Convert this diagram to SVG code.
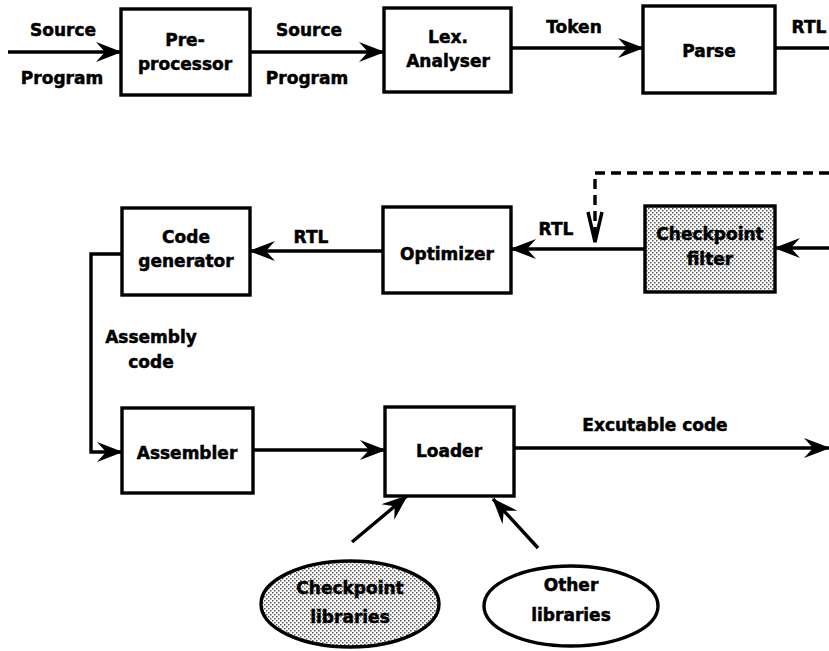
<svg xmlns="http://www.w3.org/2000/svg" width="829" height="651" viewBox="0 0 829 651">
  <defs>
    <pattern id="stipple" width="4" height="4" patternUnits="userSpaceOnUse">
      <rect width="4" height="4" fill="#ffffff"/>
      <rect x="0" y="0" width="1.5" height="1.5" fill="#555"/>
      <rect x="2" y="2" width="1.5" height="1.5" fill="#555"/>
    </pattern>
    <marker id="arrow" viewBox="-27 -11 29 22" refX="0" refY="0" markerWidth="29" markerHeight="22" markerUnits="userSpaceOnUse" orient="auto">
      <path d="M1,0 L-25,-10 L-16,0 L-25,10 Z" fill="#000"/>
    </marker>
  </defs>
  <style>
    .box { fill: #ffffff; stroke: #000; stroke-width: 3.4; }
    .shaded { fill: url(#stipple); }
    .edge { fill: none; stroke: #000; stroke-width: 3.4; }
    .dash { fill: none; stroke: #000; stroke-width: 3.4; stroke-dasharray: 10 6; }
    text { font-family: "DejaVu Sans", "Liberation Sans", sans-serif; font-weight: bold; font-size: 17px; fill: #000; stroke: #000; stroke-width: 0.5; text-anchor: middle; }
  </style>
  <rect width="829" height="651" fill="#ffffff"/>

  <g id="connectors">
    <line class="edge" x1="8" y1="52" x2="121" y2="52" marker-end="url(#arrow)"/>
    <line class="edge" x1="250" y1="52" x2="384" y2="52" marker-end="url(#arrow)"/>
    <line class="edge" x1="511" y1="48" x2="643" y2="48" marker-end="url(#arrow)"/>
    <line class="edge" x1="775" y1="48" x2="829" y2="48"/>
    <line class="edge" x1="829" y1="248" x2="775" y2="248" marker-end="url(#arrow)"/>
    <line class="edge" x1="645" y1="249" x2="511" y2="249" marker-end="url(#arrow)"/>
    <line class="edge" x1="383" y1="251" x2="250" y2="251" marker-end="url(#arrow)"/>
    <polyline class="edge" points="122,254 91,254 91,452 122,452" marker-end="url(#arrow)"/>
    <line class="edge" x1="253" y1="450" x2="385" y2="450" marker-end="url(#arrow)"/>
    <line class="edge" x1="514" y1="448" x2="829" y2="448" marker-end="url(#arrow)"/>
    <line class="edge" x1="352" y1="542" x2="407" y2="496" marker-end="url(#arrow)"/>
    <line class="edge" x1="538" y1="548" x2="493" y2="499" marker-end="url(#arrow)"/>
    <polyline class="dash" points="829,173 595,173 595,236"/>
    <polyline class="edge" points="588,212 595,242 602,212"/>

    <text x="63" y="36">Source</text>
    <text x="62" y="84">Program</text>
    <text x="309" y="36">Source</text>
    <text x="307" y="84">Program</text>
    <text x="574" y="33">Token</text>
    <text x="809" y="33">RTL</text>
    <text x="311" y="243">RTL</text>
    <text x="556" y="235">RTL</text>
    <text x="151" y="343">Assembly</text>
    <text x="151" y="368">code</text>
    <text x="655" y="431">Excutable code</text>
  </g>

  <g id="preprocessor">
    <rect class="box" x="121" y="9" width="129" height="86"/>
    <text x="185" y="46">Pre-</text>
    <text x="185" y="70">processor</text>
  </g>
  <g id="lex-analyser">
    <rect class="box" x="384" y="8" width="127" height="84"/>
    <text x="448" y="43">Lex.</text>
    <text x="448" y="67">Analyser</text>
  </g>
  <g id="parse">
    <rect class="box" x="643" y="6" width="132" height="87"/>
    <text x="709" y="57">Parse</text>
  </g>
  <g id="checkpoint-filter">
    <rect class="box shaded" x="645" y="206" width="130" height="86"/>
    <text x="710" y="240">Checkpoint</text>
    <text x="710" y="265">filter</text>
  </g>
  <g id="optimizer">
    <rect class="box" x="383" y="207" width="128" height="86"/>
    <text x="447" y="260">Optimizer</text>
  </g>
  <g id="code-generator">
    <rect class="box" x="122" y="208" width="128" height="87"/>
    <text x="186" y="243">Code</text>
    <text x="186" y="267">generator</text>
  </g>
  <g id="assembler">
    <rect class="box" x="122" y="408" width="131" height="85"/>
    <text x="187" y="459">Assembler</text>
  </g>
  <g id="loader">
    <rect class="box" x="385" y="407" width="129" height="89"/>
    <text x="449" y="457">Loader</text>
  </g>
  <g id="checkpoint-libraries">
    <ellipse class="box shaded" cx="350" cy="604" rx="89" ry="43"/>
    <text x="350" y="594">Checkpoint</text>
    <text x="350" y="623">libraries</text>
  </g>
  <g id="other-libraries">
    <ellipse class="box" cx="571" cy="606" rx="87" ry="40"/>
    <text x="571" y="591">Other</text>
    <text x="571" y="621">libraries</text>
  </g>
</svg>
